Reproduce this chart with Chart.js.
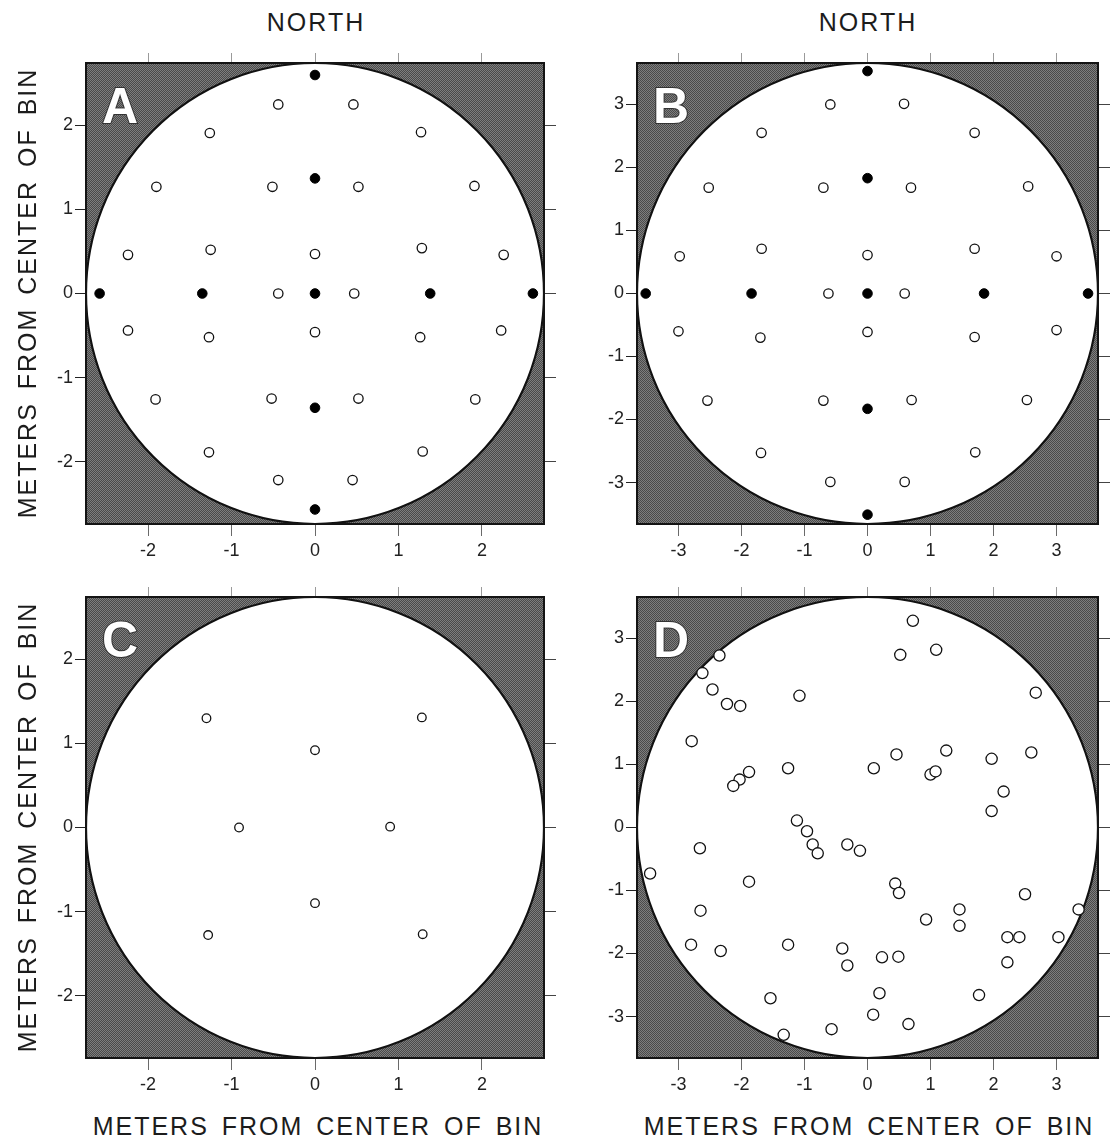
<!DOCTYPE html>
<html>
<head>
<meta charset="utf-8">
<script src="https://cdn.jsdelivr.net/npm/chart.js@4.4.1/dist/chart.umd.min.js"></script>
<style>
  html, body { margin:0; padding:0; background:#fff; }
  body { position:relative; width:1111px; height:1142px; overflow:hidden;
         font-family:"Liberation Sans", Arial, sans-serif; color:#1c1c1c; }
  canvas { position:absolute; }
  .t { position:absolute; white-space:nowrap; line-height:1;
       font-size:25px; letter-spacing:2px; word-spacing:4px;
       transform:translate(-50%,-50%); }
  .north { font-size:25px; letter-spacing:2px; }
  .ylab { transform:translate(-50%,-50%) rotate(-90deg); }
</style>
</head>
<body>
<canvas id="cA"></canvas><canvas id="cB"></canvas>
<canvas id="cC"></canvas><canvas id="cD"></canvas>

<div class="t north" style="left:316px;top:22px">NORTH</div>
<div class="t north" style="left:868px;top:22px">NORTH</div>
<div class="t ylab" style="left:27px;top:293px">METERS FROM CENTER OF BIN</div>
<div class="t ylab" style="left:27px;top:827px">METERS FROM CENTER OF BIN</div>
<div class="t" style="left:318px;top:1126px">METERS FROM CENTER OF BIN</div>
<div class="t" style="left:869px;top:1126px">METERS FROM CENTER OF BIN</div>

<script>
/* ----- data (metres from bin centre) ----- */
const panelLetters = ['A', 'B', 'C', 'D'];
const binRadii     = [2.743, 3.658, 2.743, 3.658];   // 18 ft and 24 ft bins
const ticksSmall   = [-2, -1, 0, 1, 2];
const ticksLarge   = [-3, -2, -1, 0, 1, 2, 3];

const aOpen = [[-0.44,2.25],[0.46,2.25],[-1.26,1.91],[1.27,1.92],[-1.90,1.27],[-0.51,1.27],
  [0.52,1.27],[1.91,1.28],[-2.24,0.46],[-1.25,0.52],[0,0.47],[1.28,0.54],[2.26,0.46],
  [-0.44,0],[0.47,0],[-2.24,-0.44],[-1.27,-0.52],[0,-0.46],[1.26,-0.52],[2.23,-0.44],
  [-1.91,-1.26],[-0.52,-1.25],[0.52,-1.25],[1.92,-1.26],[-1.27,-1.89],[1.29,-1.88],
  [-0.44,-2.22],[0.45,-2.22]];
const aFilled = [[0,2.6],[0,1.37],[-2.58,0],[-1.35,0],[0,0],[1.38,0],[2.61,0],[0,-1.36],[0,-2.57]];

const bOpen = [[-0.59,3.0],[0.58,3.01],[-1.68,2.55],[1.70,2.55],[-2.52,1.68],[-0.70,1.68],
  [0.69,1.68],[2.55,1.70],[-2.98,0.59],[-1.68,0.71],[0,0.61],[1.70,0.71],[3.0,0.59],
  [-0.62,0],[0.59,0],[-3.0,-0.60],[-1.70,-0.70],[0,-0.61],[1.70,-0.69],[3.0,-0.58],
  [-2.54,-1.70],[-0.70,-1.70],[0.70,-1.69],[2.53,-1.69],[-1.69,-2.53],[1.71,-2.52],
  [-0.59,-2.99],[0.59,-2.99]];
const bFilled = [[0,3.53],[0,1.83],[-3.52,0],[-1.84,0],[0,0],[1.85,0],[3.50,0],[0,-1.83],[0,-3.51]];

const cOpen = [[-1.30,1.30],[1.28,1.31],[0,0.92],[-0.91,0],[0.90,0.01],[0,-0.90],
  [-1.28,-1.28],[1.29,-1.27]];

const dOpen = [[0.72,3.28],[1.09,2.82],[0.52,2.74],[-2.35,2.73],[-2.62,2.45],[-2.46,2.19],
  [-2.23,1.96],[-2.02,1.93],[-1.08,2.09],[2.67,2.14],[-2.79,1.37],[0.46,1.16],[1.25,1.22],
  [1.97,1.09],[2.60,1.19],[-1.26,0.94],[0.10,0.94],[1.00,0.84],[1.08,0.89],[-1.88,0.88],
  [-2.03,0.76],[-2.13,0.66],[2.16,0.57],[1.97,0.26],[-1.12,0.11],[-0.96,-0.06],[-0.87,-0.27],
  [-0.79,-0.41],[-0.32,-0.27],[-0.12,-0.37],[-2.66,-0.33],[-3.45,-0.73],[-1.88,-0.86],
  [0.44,-0.89],[0.50,-1.04],[2.50,-1.06],[-2.65,-1.32],[0.93,-1.46],[1.46,-1.30],[1.46,-1.56],
  [3.35,-1.30],[-2.80,-1.86],[-2.33,-1.96],[-1.26,-1.86],[-0.40,-1.92],[-0.32,-2.19],
  [0.23,-2.06],[0.49,-2.05],[2.22,-1.74],[2.41,-1.74],[3.03,-1.74],[2.22,-2.14],[-1.54,-2.71],
  [0.19,-2.63],[1.77,-2.66],[0.09,-2.97],[0.65,-3.12],[-0.57,-3.20],[-1.33,-3.29]];

/* ----- helpers ----- */
Chart.defaults.font.family = '"Liberation Sans", Arial, sans-serif';
Chart.defaults.color = '#222';

const toXY = pts => pts.map(([x, y]) => ({x, y}));

// small dither tile so the gray corners look stippled like the print
const tile = document.createElement('canvas');
tile.width = tile.height = 2;
{
  const t = tile.getContext('2d');
  t.fillStyle = '#7e7e7e'; t.fillRect(0, 0, 2, 2);
  t.fillStyle = '#4a4a4a'; t.fillRect(0, 0, 1, 1); t.fillRect(1, 1, 1, 1);
}

// gray bin square with the white bin floor and the panel letter
const binPlugin = {
  id: 'bin',
  beforeDraw(chart, args, opts) {
    const {ctx, chartArea: a, scales: {x, y}} = chart;
    const cx = x.getPixelForValue(0), cy = y.getPixelForValue(0);
    const rx = x.getPixelForValue(opts.radius) - cx;
    const ry = cy - y.getPixelForValue(opts.radius);
    ctx.save();
    ctx.beginPath();
    ctx.rect(a.left, a.top, a.right - a.left, a.bottom - a.top);
    ctx.clip();
    ctx.fillStyle = ctx.createPattern(tile, 'repeat');
    ctx.fillRect(a.left, a.top, a.right - a.left, a.bottom - a.top);
    ctx.beginPath();
    ctx.ellipse(cx, cy, rx, ry, 0, 0, 2 * Math.PI);
    ctx.fillStyle = '#fff';
    ctx.fill();
    ctx.lineWidth = 2.2;
    ctx.strokeStyle = '#111';
    ctx.stroke();
    ctx.font = 'bold 50px "Liberation Sans", Arial, sans-serif';
    ctx.lineWidth = 2;
    ctx.strokeStyle = '#333';
    ctx.strokeText(opts.letter, a.left + 16, a.top + 60);
    ctx.fillStyle = '#fff';
    ctx.fillText(opts.letter, a.left + 16, a.top + 60);
    ctx.restore();
  }
};

const PAD = {left: 50, top: 20, right: 13, bottom: 45};

function axis(position, R, tickVals, o) {
  const horiz = position === 'top' || position === 'bottom';
  return {
    type: 'linear', position, min: -R, max: R,
    afterBuildTicks: s => { s.ticks = tickVals.map(v => ({value: v})); },
    afterFit: s => { if (horiz) s.height = PAD[position]; else s.width = PAD[position]; },
    grid: {drawOnChartArea: false, drawTicks: true, tickLength: o.len, color: o.color, lineWidth: 1},
    border: {display: true, color: '#141414', width: 2},
    ticks: {display: o.labels, padding: o.pad, autoSkip: false, maxRotation: 0,
            font: {size: 18}, color: '#222'}
  };
}

function makePanel(id, box, idx, sets) {
  const cv = document.getElementById(id);
  cv.width = box.w + PAD.left + PAD.right;
  cv.height = box.h + PAD.top + PAD.bottom;
  cv.style.left = (box.l - PAD.left) + 'px';
  cv.style.top = (box.t - PAD.top) + 'px';
  const R = binRadii[idx];
  const tv = R > 3 ? ticksLarge : ticksSmall;
  new Chart(cv, {
    type: 'scatter',
    data: {datasets: sets},
    options: {
      responsive: false, animation: false, devicePixelRatio: 1,
      layout: {padding: 0},
      plugins: {legend: {display: false}, tooltip: {enabled: false},
                bin: {radius: R, letter: panelLetters[idx]}},
      scales: {
        x:  axis('bottom', R, tv, {len: 12, color: '#6a6a6a', labels: true, pad: 4}),
        x2: axis('top',    R, tv, {len: 10, color: '#9a9a9a', labels: false, pad: 0}),
        y:  axis('left',   R, tv, {len: 11, color: '#222', labels: true, pad: 2}),
        y2: axis('right',  R, tv, {len: 12, color: '#444', labels: false, pad: 0})
      }
    },
    plugins: [binPlugin]
  });
}

const openSet = (pts, r) => ({data: toXY(pts), pointRadius: r, pointHoverRadius: r,
  pointBorderWidth: 1.3, borderColor: '#111', backgroundColor: '#fff', showLine: false});
const filledSet = (pts, r) => ({data: toXY(pts), pointRadius: r, pointHoverRadius: r,
  pointBorderWidth: 1, borderColor: '#000', backgroundColor: '#000', showLine: false});

makePanel('cA', {l: 86,  t: 63,  w: 458, h: 461}, 0, [openSet(aOpen, 4.7), filledSet(aFilled, 4.8)]);
makePanel('cB', {l: 637, t: 63,  w: 461, h: 461}, 1, [openSet(bOpen, 4.7), filledSet(bFilled, 4.8)]);
makePanel('cC', {l: 86,  t: 597, w: 458, h: 461}, 2, [openSet(cOpen, 4.3)]);
makePanel('cD', {l: 637, t: 597, w: 461, h: 461}, 3, [openSet(dOpen, 5.6)]);
</script>
</body>
</html>
